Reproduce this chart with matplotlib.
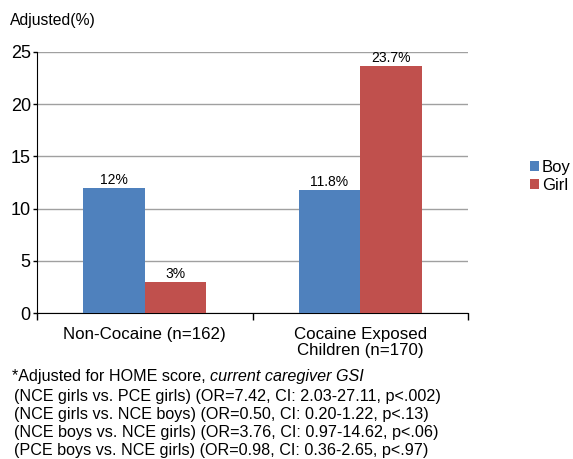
import matplotlib
matplotlib.use("Agg")
import matplotlib.pyplot as plt
import numpy as np

plt.rcParams['font.family'] = ['Liberation Sans', 'DejaVu Sans']

categories = ["Non-Cocaine (n=162)", "Cocaine Exposed\nChildren (n=170)"]
series_names = ["Boy", "Girl"]
boy = [12.0, 11.8]
girl = [3.0, 23.7]
boy_labels = ["12%", "11.8%"]
girl_labels = ["3%", "23.7%"]
yticks = [0, 5, 10, 15, 20, 25]
footnotes = [
    "(NCE girls vs. PCE girls) (OR=7.42, CI: 2.03-27.11, p<.002)",
    "(NCE girls vs. NCE boys) (OR=0.50, CI: 0.20-1.22, p<.13)",
    "(NCE boys vs. NCE girls) (OR=3.76, CI: 0.97-14.62, p<.06)",
    "(PCE boys vs. NCE girls) (OR=0.98, CI: 0.36-2.65, p<.97)",
]

blue = "#4F81BD"
red = "#C0504D"

fig = plt.figure(figsize=(5.73, 4.59), dpi=100)
ax = fig.add_axes([37/573, 1-313/459, (468-37)/573, (313-52)/459])

x = np.arange(len(categories))
w = 0.285
b1 = ax.bar(x - w/2, boy, w, color=blue, label=series_names[0], zorder=3)
b2 = ax.bar(x + w/2, girl, w, color=red, label=series_names[1], zorder=3)

for rect, lab in zip(b1, boy_labels):
    ax.annotate(lab, (rect.get_x() + rect.get_width()/2, rect.get_height()),
                xytext=(0, 0.5), textcoords="offset points", ha="center", va="bottom", fontsize=10)
for rect, lab in zip(b2, girl_labels):
    ax.annotate(lab, (rect.get_x() + rect.get_width()/2, rect.get_height()),
                xytext=(0, 0.5), textcoords="offset points", ha="center", va="bottom", fontsize=10)

ax.set_xlim(-0.5, 1.5)
ax.set_ylim(0, 25)
ax.set_yticks(yticks)
ax.set_yticklabels([str(t) for t in yticks], fontsize=13)
ax.yaxis.grid(True, color="#a0a0a0", linewidth=1, zorder=0)
ax.set_axisbelow(True)

ax.set_xticks([-0.5, 0.5, 1.5])
ax.set_xticklabels([])
ax.tick_params(axis="x", direction="out", length=5, width=1, color="black")
ax.tick_params(axis="y", direction="out", length=3, width=1, color="black", pad=1.5)
for i, c in enumerate(categories):
    ax.text(i, -1.3, c, ha="center", va="top", fontsize=12.2, linespacing=1.15,
            transform=ax.transData)

for s in ["top", "right"]:
    ax.spines[s].set_visible(False)
ax.spines["left"].set_color("black")
ax.spines["bottom"].set_color("black")

leg = fig.legend(handles=[b1, b2], labels=series_names, loc="upper left",
                 bbox_to_anchor=(530/573, 1-160/459), frameon=False, fontsize=12,
                 handlelength=0.55, handleheight=0.55, handletextpad=0.15, labelspacing=0.2,
                 borderaxespad=0, borderpad=0)

fig.text(10/573, 1-20/459, "Adjusted(%)", fontsize=11.3, ha="left", va="center")

fs = 11.6
fig.text(12/573, 1-377/459, "*Adjusted for HOME score, ", fontsize=fs, ha="left", va="center")
fig.canvas.draw()
t0 = fig.texts[-1]
bb = t0.get_window_extent(fig.canvas.get_renderer())
fig.text(bb.x1/fig.bbox.width, 1-377/459, "current caregiver GSI", fontsize=fs,
         style="italic", ha="left", va="center")
ys = [397, 415, 432, 450]
for yy, line in zip(ys, footnotes):
    fig.text(14/573, 1-yy/459, line, fontsize=fs, ha="left", va="center")

fig.savefig("out.png", dpi=100)
